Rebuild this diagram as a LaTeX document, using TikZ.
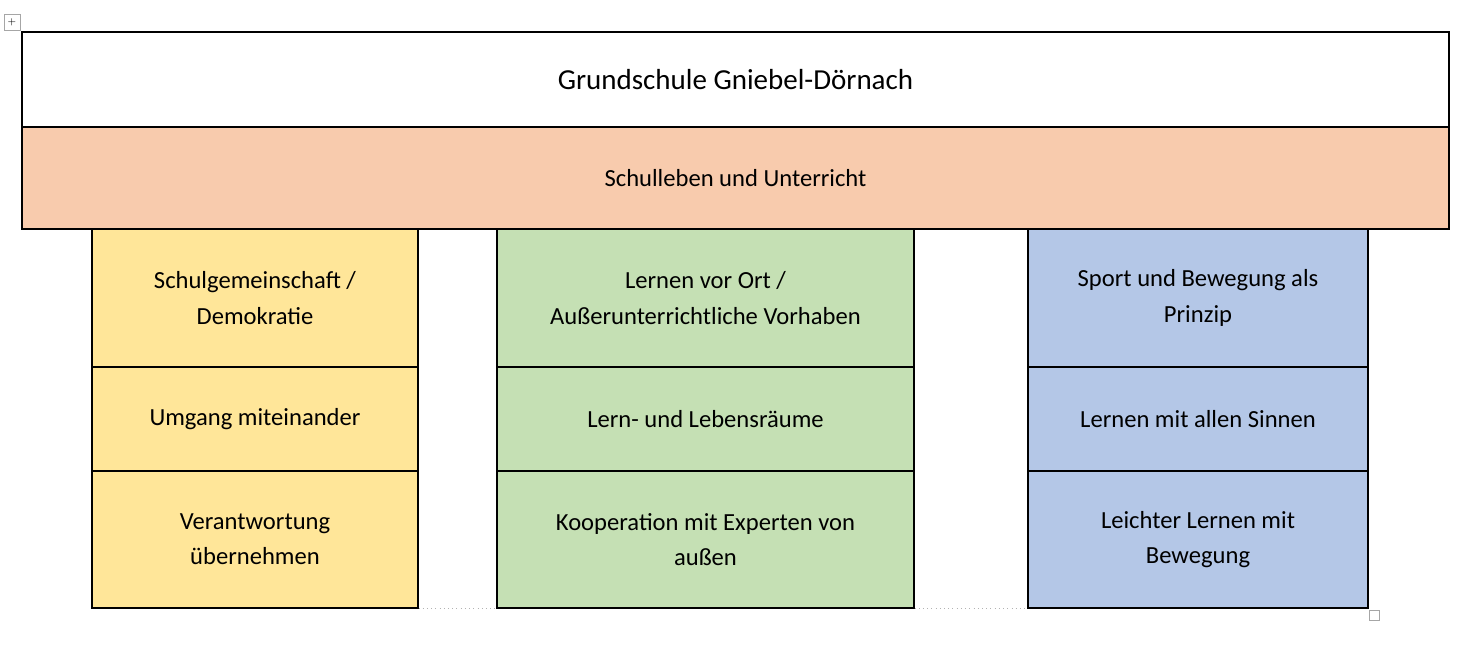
\documentclass[tikz,border=0pt]{standalone}
\usepackage{fontspec}
\setmainfont{Carlito}
\usetikzlibrary{positioning}
\definecolor{orangecell}{HTML}{F8CBAD}
\definecolor{yellowcell}{HTML}{FFE699}
\definecolor{greencell}{HTML}{C5E0B4}
\definecolor{bluecell}{HTML}{B4C7E7}
\tikzset{
	cell/.style={draw=black, line width=0.6pt, align=center, inner sep=0pt, font=\fontsize{14}{20}\selectfont},
}
\begin{document}
\begin{tikzpicture}[x=0.02cm, y=-0.02cm]
		
		\useasboundingbox (0,0) rectangle (1474,661);
		%\draw[style=help lines, step=50] (0,0) grid (1474,661);
		
		% header rows
		\node[cell, minimum width=1427*0.02cm, minimum height=95*0.02cm, font=\fontsize{16.5}{20}\selectfont] (title) at (735.5,79.5) {Grundschule Gniebel-Dörnach};
		\node[cell, fill=orangecell, minimum width=1427*0.02cm, minimum height=102*0.02cm] (school) at (735.5,178) {Schulleben und Unterricht};
		
		% columns
		\foreach \name/\col/\xl/\xr/\ta/\tb/\tc in {
			left/yellowcell/92/418/{Schulgemeinschaft /\\Demokratie}/{Umgang miteinander}/{Verantwortung\\übernehmen},
			mid/greencell/497/914/{Lernen vor Ort /\\Außerunterrichtliche Vorhaben}/{Lern- und Lebensräume}/{Kooperation mit Experten von\\außen},
			right/bluecell/1028/1368/{Sport und Bewegung als\\Prinzip}/{Lernen mit allen Sinnen}/{Leichter Lernen mit\\Bewegung}}{
			\node[cell, fill=\col, minimum width={(\xr-\xl)*0.02cm}, minimum height=138*0.02cm] (\name1) at ({(\xl+\xr)/2},298) {\ta};
			\node[cell, fill=\col, minimum width={(\xr-\xl)*0.02cm}, minimum height=104*0.02cm] (\name2) at ({(\xl+\xr)/2},419) {\tb};
			\node[cell, fill=\col, minimum width={(\xr-\xl)*0.02cm}, minimum height=137*0.02cm] (\name3) at ({(\xl+\xr)/2},539.5) {\tc};
		}
		
		% table gridline remains
		\draw[gray!60, dotted] (left3.south east) -- (mid3.south west);
		\draw[gray!60, dotted] (mid3.south east) -- (right3.south west);
		\node[draw=gray!70, minimum size=10*0.02cm, inner sep=0pt] (handle) at (1374,615) {};
		\node[draw=gray!70, minimum size=16*0.02cm, inner sep=0pt, font=\tiny] (move) at (12,22) {$\scriptscriptstyle+$};
		
\end{tikzpicture}
\end{document}
